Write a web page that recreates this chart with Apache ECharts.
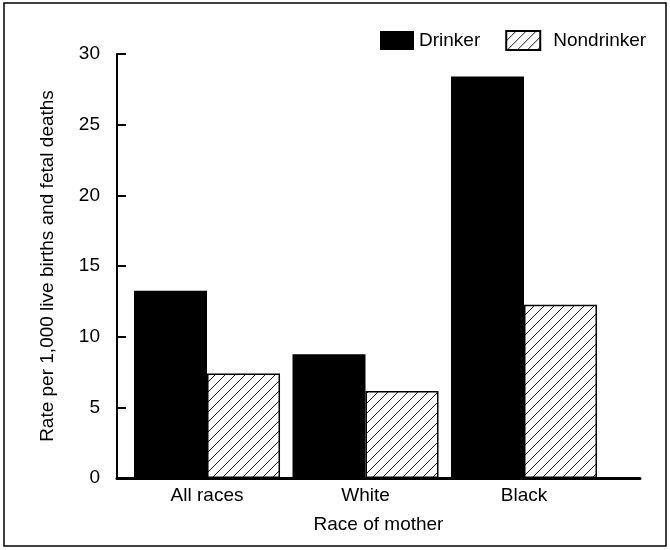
<!DOCTYPE html>
<html><head><meta charset="utf-8">
<script src="https://cdn.jsdelivr.net/npm/echarts@6/dist/echarts.min.js"></script>
<style>html,body{margin:0;padding:0;background:#fff}#c{width:670px;height:550px}</style>
</head><body><div id="c"></div>
<script>
const categories = ['All races', 'White', 'Black'];
const drinker = [13.25, 8.75, 28.4];
const nondrinker = [7.4, 6.15, 12.25];
const yTicks = [0, 5, 10, 15, 20, 25, 30];

const pc = document.createElement('canvas');
pc.width = 10; pc.height = 10;
const g = pc.getContext('2d');
g.fillStyle = '#fff'; g.fillRect(0, 0, 10, 10);
g.strokeStyle = '#000'; g.lineWidth = 0.9;
g.beginPath();
g.moveTo(-1, 11); g.lineTo(11, -1);
g.moveTo(-1, 1); g.lineTo(1, -1);
g.moveTo(9, 11); g.lineTo(11, 9);
g.stroke();

const font = 'Arial, "Liberation Sans", sans-serif';
const fs = 19;
const chart = echarts.init(document.getElementById('c'), null, {renderer: 'canvas'});
chart.setOption({
  animation: false,
  backgroundColor: '#fff',
  textStyle: {fontFamily: font, color: '#000'},
  graphic: [{type: 'rect', shape: {x: 4, y: 3, width: 662, height: 543}, style: {fill: 'none', stroke: '#000', lineWidth: 1.5}, silent: true}],
  legend: {
    left: 380, top: 30, padding: 0, itemWidth: 34, itemHeight: 19, itemGap: 25,
    textStyle: {fontSize: fs, color: '#000', fontFamily: font},
    data: [
      {name: 'Drinker', icon: 'rect'},
      {name: 'Nondrinker', icon: 'rect', textStyle: {padding: [0, 0, 0, 8]}}
    ]
  },
  grid: {left: 117, right: 30, top: 54, bottom: 72, containLabel: false},
  xAxis: {
    type: 'value', min: 0.432, max: 3.732,
    splitLine: {show: false},
    axisLine: {show: true, lineStyle: {color: '#000', width: 3}},
    axisTick: {show: false},
    axisLabel: {customValues: [1, 2, 3], formatter: v => categories[Math.round(v) - 1] || '', fontSize: fs, color: '#000', margin: 8, fontFamily: font},
    name: 'Race of mother', nameLocation: 'middle', nameGap: 37,
    nameTextStyle: {fontSize: fs, color: '#000', fontFamily: font}
  },
  yAxis: {
    type: 'value', min: 0, max: 30, interval: 5,
    splitLine: {show: false},
    axisLine: {show: true, lineStyle: {color: '#000', width: 2}},
    axisTick: {show: true, inside: true, length: 9, lineStyle: {color: '#000', width: 2}},
    axisLabel: {fontSize: fs, color: '#000', margin: 17, fontFamily: font},
    name: 'Rate per 1,000 live births and fetal deaths', nameLocation: 'middle', nameGap: 60,
    nameTextStyle: {fontSize: fs, color: '#000', fontFamily: font}
  },
  series: [
    {name: 'Drinker', type: 'bar', barWidth: 73, barGap: '0%',
     itemStyle: {color: '#000'},
     data: drinker.map((v, i) => [i + 1, v])},
    {name: 'Nondrinker', type: 'bar', barWidth: 73, barGap: '0%',
     itemStyle: {color: {image: pc, repeat: 'repeat'}, borderColor: '#000', borderWidth: 1.5},
     data: nondrinker.map((v, i) => [i + 1, v])}
  ]
});
</script></body></html>
